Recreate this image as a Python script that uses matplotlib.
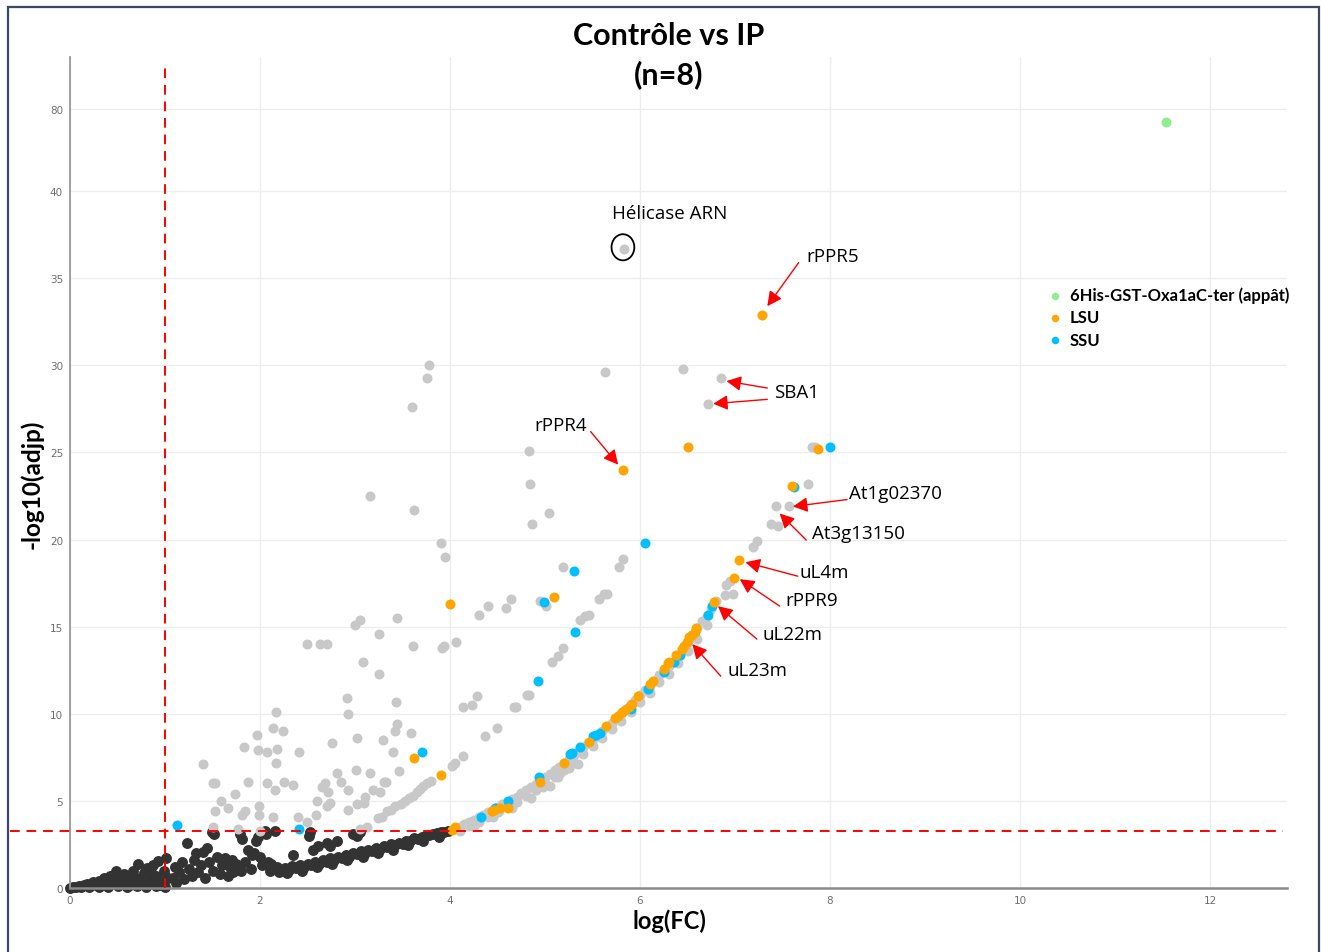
import matplotlib
matplotlib.use("Agg")
import matplotlib.pyplot as plt
import numpy as np
from matplotlib.patches import Ellipse, Rectangle
from matplotlib.font_manager import FontProperties

# --- Data: (log(FC), -log10(adjp)) ---
# non significant proteins (dark)
dark_pts = [
    (0.00, 0.02), (0.03, 0.05), (0.06, 0.08), (0.09, 0.12), (0.12, 0.06), (0.15, 0.18),
    (0.18, 0.25), (0.21, 0.12), (0.24, 0.32), (0.27, 0.20), (0.30, 0.40), (0.33, 0.22),
    (0.36, 0.55), (0.39, 0.15), (0.42, 0.70), (0.45, 0.35), (0.48, 1.00), (0.51, 0.45),
    (0.54, 0.25), (0.57, 0.80), (0.60, 0.50), (0.63, 0.20), (0.66, 0.95), (0.69, 0.55),
    (0.72, 1.38), (0.75, 0.35), (0.78, 0.85), (0.81, 1.15), (0.84, 0.45), (0.87, 1.30),
    (0.90, 0.70), (0.93, 1.55), (0.96, 0.40), (0.99, 1.00), (1.01, 1.70), (1.03, 0.55),
    (0.20, 0.04), (0.30, 0.08), (0.40, 0.03), (0.50, 0.10), (0.60, 0.05), (0.70, 0.12),
    (0.80, 0.06), (0.90, 0.10), (1.00, 0.08), (0.55, 0.60), (0.65, 0.40), (0.85, 0.90),
    (0.95, 0.20),
    (1.08, 0.6), (1.10, 1.2), (1.12, 0.3), (1.15, 0.9), (1.18, 1.5), (1.20, 0.5),
    (1.23, 2.6), (1.25, 1.1), (1.28, 0.7), (1.30, 1.6), (1.33, 2.0), (1.35, 0.9),
    (1.38, 1.3), (1.40, 2.05), (1.42, 0.6), (1.44, 2.3), (1.46, 1.5), (1.49, 3.2),
    (1.50, 1.0), (1.52, 3.1), (1.55, 1.8), (1.58, 0.8), (1.60, 1.3), (1.63, 1.7),
    (1.66, 0.7), (1.68, 1.2), (1.70, 1.6), (1.72, 0.9), (1.75, 1.4), (1.79, 3.1),
    (1.81, 2.8), (1.80, 1.0), (1.84, 1.5), (1.87, 2.2), (1.90, 1.1), (1.92, 1.9),
    (1.94, 2.0), (1.96, 2.7), (1.98, 2.9), (2.00, 1.8), (2.02, 1.3), (2.05, 3.3),
    (2.06, 3.1), (2.08, 1.5), (2.10, 1.0), (2.12, 1.4), (2.16, 3.3), (2.18, 1.2),
    (2.20, 0.9),
    (2.22, 1.0), (2.26, 1.15), (2.30, 1.05), (2.34, 1.25), (2.35, 1.9), (2.38, 1.15),
    (2.42, 1.3), (2.46, 1.2), (2.50, 1.4), (2.52, 3.0), (2.53, 3.2), (2.54, 1.3),
    (2.56, 2.2), (2.58, 1.5), (2.61, 2.4), (2.62, 1.4), (2.66, 1.6), (2.70, 1.5),
    (2.70, 2.6), (2.74, 1.7), (2.74, 2.4), (2.78, 1.6), (2.81, 2.7), (2.82, 1.8),
    (2.86, 1.7), (2.90, 1.9), (2.94, 1.8), (2.98, 2.0), (2.98, 3.1), (3.02, 1.95),
    (3.02, 3.0), (3.05, 3.2), (3.06, 2.1), (3.10, 2.0), (3.14, 2.2), (3.18, 2.1),
    (3.22, 2.3), (3.26, 2.25), (3.30, 2.4), (3.34, 2.35), (3.38, 2.5), (3.42, 2.45),
    (3.46, 2.6), (3.50, 2.55), (3.54, 2.7), (3.58, 2.7), (3.62, 2.85), (3.66, 2.8),
    (3.70, 2.95), (3.74, 3.0), (3.78, 3.05), (3.82, 3.1), (3.86, 3.15), (3.90, 3.2),
    (3.94, 3.2), (3.98, 3.25),
    (2.28, 0.85), (2.44, 1.0), (2.60, 1.2), (2.76, 1.4), (2.92, 1.6), (3.08, 1.8),
    (3.24, 2.0), (3.40, 2.2), (3.56, 2.45), (3.72, 2.7), (3.88, 2.95),
]

# significant proteins, scattered ones (grey)
gray_scatter = [
    (1.40, 7.1), (1.50, 6.0), (1.53, 6.0), (1.87, 6.1), (2.07, 6.0), (2.16, 5.6),
    (2.25, 6.1), (2.35, 5.9), (1.74, 5.4), (1.59, 5.0), (1.66, 4.6), (1.53, 4.4),
    (1.81, 4.2), (1.84, 4.4), (1.99, 4.7), (1.99, 4.2), (2.14, 4.1), (1.77, 3.4),
    (1.50, 3.5), (2.00, 3.3), (2.40, 4.1), (2.49, 3.8), (2.60, 5.0), (2.70, 4.7),
    (2.74, 4.9), (2.59, 4.2), (2.65, 5.8), (2.68, 6.0), (2.72, 5.5), (2.81, 6.6),
    (2.85, 6.1), (2.93, 5.6), (2.93, 4.5), (3.01, 6.8), (3.02, 4.8), (3.09, 4.9),
    (3.10, 5.2), (3.16, 6.6), (3.19, 5.6), (3.26, 5.5), (3.30, 6.1), (3.33, 6.1),
    (3.46, 6.7), (3.40, 7.8), (2.17, 10.1), (2.14, 9.2), (2.24, 9.0), (1.97, 8.8),
    (1.83, 8.1), (1.98, 7.9), (2.07, 7.8), (2.18, 8.0), (2.17, 7.2), (2.41, 7.8),
    (2.76, 8.3), (3.02, 8.6), (3.29, 8.5), (3.44, 9.4), (3.42, 9.0), (3.59, 8.9),
    (2.92, 10.9), (2.93, 10.0), (3.43, 10.7), (3.25, 12.3), (3.08, 13.0), (2.49, 14.0),
    (2.63, 14.0), (2.70, 14.0), (3.61, 13.9), (3.92, 13.8), (3.94, 13.9), (4.06, 14.1),
    (3.25, 14.6), (3.05, 15.4), (3.00, 15.1), (3.44, 15.5), (4.30, 15.7), (4.40, 16.2),
    (4.59, 16.1), (4.64, 16.6), (4.95, 16.5), (5.01, 16.2), (4.14, 10.4), (4.23, 10.5),
    (4.28, 11.0), (4.02, 7.0), (4.05, 7.2), (4.14, 7.6), (3.91, 19.8), (3.95, 19.0),
    (3.62, 21.7), (3.16, 22.5), (3.60, 27.6), (3.78, 30.0), (3.76, 29.3), (4.83, 25.1),
    (4.84, 23.2), (4.86, 20.9), (5.04, 21.5), (5.19, 18.4), (5.63, 29.6), (6.45, 29.8),
    (6.85, 29.3), (6.72, 27.8), (5.83, 36.7),
]

# second (middle) branch of grey points
gray_branch = [
    (3.05, 3.4), (3.13, 3.5), (3.24, 4.0), (3.28, 4.1), (3.34, 4.4), (3.38, 4.5),
    (3.42, 4.7), (3.48, 4.85), (3.53, 5.0), (3.57, 5.15), (3.61, 5.3), (3.65, 5.5),
    (3.68, 5.7), (3.72, 5.85), (3.76, 6.0), (3.80, 6.15), (4.37, 8.7), (4.49, 9.2),
    (4.67, 10.4), (4.69, 10.4), (4.81, 11.1), (4.83, 11.1), (5.07, 13.0), (5.14, 13.3),
    (5.19, 13.8), (5.37, 15.4), (5.42, 15.6), (5.46, 15.7), (5.57, 16.6), (5.62, 16.9),
    (5.65, 16.9), (5.78, 18.4), (5.82, 18.9),
]

# main grey curve (significant)
gray_curve = [
    (4.05, 3.40), (4.10, 3.50), (4.15, 3.65), (4.20, 3.80), (4.25, 3.90), (4.30, 4.05),
    (4.35, 4.20), (4.40, 4.35), (4.45, 4.50), (4.50, 4.65), (4.55, 4.80), (4.60, 4.95),
    (4.65, 5.10), (4.70, 5.25), (4.75, 5.45), (4.80, 5.60), (4.85, 5.80), (4.90, 5.95),
    (4.95, 6.15), (5.00, 6.35), (5.05, 6.55), (5.10, 6.75), (5.15, 6.95), (5.20, 7.20),
    (5.25, 7.40), (5.30, 7.65), (5.35, 7.85), (5.40, 8.10), (5.45, 8.30), (5.50, 8.55),
    (5.55, 8.75), (5.60, 9.00), (5.65, 9.25), (5.70, 9.50), (5.75, 9.75), (5.80, 10.0),
    (5.85, 10.3), (5.90, 10.55), (5.95, 10.8), (6.00, 11.1), (6.05, 11.35), (6.10, 11.6),
    (6.15, 11.9), (6.20, 12.2), (6.25, 12.45), (6.30, 12.75), (6.35, 13.0), (6.40, 13.3),
    (6.45, 13.7), (6.50, 14.1), (6.55, 14.5), (6.60, 14.9), (6.65, 15.3), (6.70, 15.6),
    (6.75, 16.0),
    (4.10, 3.30), (4.20, 3.55), (4.30, 3.80), (4.40, 4.10), (4.50, 4.35), (4.60, 4.65),
    (4.70, 4.95), (4.80, 5.30), (4.90, 5.60), (5.00, 6.00), (5.10, 6.40), (5.20, 6.80),
    (5.30, 7.20), (5.40, 7.70), (5.50, 8.15), (5.60, 8.60), (5.70, 9.10), (5.80, 9.60),
    (5.90, 10.1), (6.00, 10.7), (6.10, 11.2), (6.20, 11.8), (6.30, 12.3), (6.40, 12.9),
    (6.50, 13.6), (6.60, 14.3), (6.70, 15.1),
    (4.52, 4.40), (4.66, 4.90), (4.98, 5.80), (5.14, 6.40), (5.16, 6.60), (5.25, 6.90),
    (4.25, 3.55), (4.45, 4.05), (4.65, 4.60), (4.85, 5.15), (5.05, 5.85), (5.35, 7.10),
    (6.80, 16.5), (6.89, 16.8), (6.91, 17.4), (6.95, 17.6), (6.98, 16.9), (7.19, 19.6),
    (7.23, 19.9), (7.38, 20.9), (7.45, 20.8), (7.43, 21.9), (7.57, 21.9), (7.77, 23.2),
    (7.81, 25.3), (7.84, 25.3),
]

# large ribosomal subunit
lsu_pts = [
    (4.02, 3.35), (4.05, 3.5), (4.44, 4.4), (4.46, 4.45), (4.53, 4.6), (4.61, 4.6),
    (4.95, 6.1), (5.20, 7.2), (5.46, 8.4), (5.64, 9.3), (5.74, 9.75), (5.77, 9.9),
    (5.81, 10.1), (5.84, 10.2), (5.88, 10.4), (5.92, 10.55), (5.98, 11.0), (6.10, 11.7),
    (6.14, 11.9), (6.25, 12.6), (6.29, 12.9), (6.31, 13.0), (6.38, 13.4), (6.44, 13.7),
    (6.46, 13.9), (6.49, 14.1), (6.52, 14.4), (6.55, 14.55), (6.58, 14.7), (6.59, 14.9),
    (6.78, 16.4), (6.99, 17.8), (7.04, 18.8), (7.60, 23.1), (7.87, 25.2), (6.50, 25.3),
    (7.28, 32.9), (5.82, 24.0), (4.00, 16.3), (5.09, 16.7), (3.62, 7.45), (3.90, 6.5),
]

# small ribosomal subunit
ssu_pts = [
    (1.13, 3.6), (2.41, 3.4), (3.71, 7.8), (4.33, 4.1), (4.47, 4.6), (4.61, 5.0),
    (4.94, 6.4), (5.26, 7.7), (5.28, 7.75), (5.37, 8.1), (5.51, 8.7), (5.54, 8.8),
    (5.58, 8.9), (5.90, 10.3), (6.08, 11.4), (6.25, 12.4), (6.36, 13.0), (6.42, 13.4),
    (6.72, 15.7), (6.76, 16.2), (4.93, 11.9), (5.32, 14.7), (5.30, 18.2), (4.99, 16.4),
    (6.05, 19.8), (8.00, 25.3), (7.62, 23.0),
]

# bait
bait_pts = [(11.54, 73.6)]

fc_cut = 1.0
p_cut = 3.27

y_ticks = [0, 5, 10, 15, 20, 25, 30, 35, 40, 80]
x_ticks = [0, 2, 4, 6, 8, 10, 12]


# --- broken y axis: linear up to 40, compressed above ---
def fwd(y):
    y = np.asarray(y, dtype=float)
    return np.where(y <= 40, y, 40 + (y - 40) * 0.1176)


def inv(t):
    t = np.asarray(t, dtype=float)
    return np.where(t <= 40, t, 40 + (t - 40) / 0.1176)


W, H = 1321, 953
fig = plt.figure(figsize=(W / 100, H / 100), dpi=100)
ax = fig.add_axes([70 / W, 1 - 889 / H, (1287 - 70) / W, (889 - 58) / H])
ax.set_yscale('function', functions=(fwd, inv))
ax.set_xlim(0, 12.81)
ax.set_ylim(0, 105.5)

gray_pts = gray_scatter + gray_branch + gray_curve
groups = [
    (dark_pts, '#333333', 62, 2),
    (gray_pts, '#C8C8C8', 52, 3),
    (ssu_pts, '#00BFFF', 52, 4),
    (lsu_pts, '#FFA500', 52, 5),
    (bait_pts, '#90EE90', 52, 6),
]
handles = {}
for pts, col, s, z in groups:
    xs, ys = zip(*pts)
    handles[col] = ax.scatter(xs, ys, s=s, color=col, linewidths=0, zorder=z, clip_on=False)

# thresholds
ax.axvline(fc_cut, ymax=0.99, color='red', ls=(0, (5, 3.5)), lw=1.4, zorder=7)
ax.plot([-0.63, 12.77], [p_cut, p_cut], color='red', ls=(0, (5, 3.5)), lw=1.4,
        zorder=7, clip_on=False)

# axes style
for side in ['top', 'right']:
    ax.spines[side].set_visible(False)
ax.spines['left'].set_color('#9A9A9A')
ax.spines['left'].set_linewidth(1.3)
ax.spines['bottom'].set_color('#8A8A8A')
ax.spines['bottom'].set_linewidth(1.8)
ax.set_xticks(x_ticks)
ax.set_yticks(y_ticks)
ax.set_xticklabels([str(v) for v in x_ticks])
ax.set_yticklabels([str(v) for v in y_ticks])
ax.yaxis.set_minor_locator(matplotlib.ticker.NullLocator())
ax.tick_params(length=0, pad=5, labelsize=7.5, labelcolor='#6E6E6E')
for lab in ax.get_xticklabels() + ax.get_yticklabels():
    lab.set_family(['Liberation Sans Narrow', 'DejaVu Sans'])
ax.grid(True, color='#EDEDED', lw=1, zorder=0)
ax.set_axisbelow(True)

# titles and labels
bold = dict(family='Lato', weight='bold', color='black')
fig.text(669 / W, 1 - 36 / H, 'Contrôle vs IP', ha='center', va='center', fontsize=22, **bold)
fig.text(669 / W, 1 - 75 / H, '(n=8)', ha='center', va='center', fontsize=22, **bold)
fig.text(669 / W, 1 - 921 / H, 'log(FC)', ha='center', va='center', fontsize=17, **bold)
fig.text(32 / W, 1 - 484 / H, '-log10(adjp)', ha='center', va='center', rotation=90,
         fontsize=17.5, **bold)

# annotations (text position, arrow tails and tips in data units)
ann_font = dict(family='Open Sans', fontsize=13.5, color='black')
arrow = dict(arrowstyle='-|>,head_length=0.55,head_width=0.28', color='red', lw=1,
             shrinkA=0, shrinkB=0, mutation_scale=16)
labels = [
    ('rPPR5', (8.03, 36.3), 'center', [((7.67, 35.9), (7.34, 33.4))]),
    ('SBA1', (7.65, 28.45), 'center', [((7.34, 28.7), (6.91, 29.1)),
                                       ((7.34, 28.05), (6.77, 27.8))]),
    ('rPPR4', (5.16, 26.6), 'center', [((5.48, 26.2), (5.77, 24.3))]),
    ('At1g02370', (8.20, 22.66), 'left', [((8.18, 22.3), (7.61, 21.9))]),
    ('At3g13150', (7.81, 20.37), 'left', [((7.75, 19.97), (7.47, 21.5))]),
    ('uL4m', (7.68, 18.13), 'left', [((7.66, 17.9), (7.11, 18.7))]),
    ('rPPR9', (7.53, 16.52), 'left', [((7.47, 16.18), (7.05, 17.73))]),
    ('uL22m', (7.29, 14.57), 'left', [((7.23, 14.29), (6.82, 16.18))]),
    ('uL23m', (6.92, 12.51), 'left', [((6.85, 12.16), (6.55, 14.0))]),
    ('Hélicase ARN', (6.31, 38.73), 'center', []),
]
for txt, pos, ha, arrows in labels:
    ax.text(pos[0], pos[1], txt, ha=ha, va='center', zorder=8, **ann_font)
    for tail, tip in arrows:
        ax.annotate('', xy=tip, xytext=tail, arrowprops=arrow, zorder=8)

ax.add_patch(Ellipse((5.82, 36.78), 0.24, 1.5, fill=False, ec='black', lw=1.3, zorder=8))

# legend
leg = fig.legend([handles['#90EE90'], handles['#FFA500'], handles['#00BFFF']],
                 ['6His-GST-Oxa1aC-ter (appât)', 'LSU', 'SSU'],
                 loc='upper left', bbox_to_anchor=(1040 / W, 1 - 279 / H),
                 frameon=False, scatterpoints=1, markerscale=0.75,
                 handlelength=0.8, handletextpad=0.5, labelspacing=0.38, borderpad=0,
                 prop=FontProperties(family='Lato', weight='bold', size=12))

# outer frame
fig.patches.append(Rectangle((8 / W, -0.1), 1311 / W, 1.1 - 8 / H, transform=fig.transFigure,
                             fill=False, ec='#3A4866', lw=1.6))

fig.savefig('out.png', dpi=100)
